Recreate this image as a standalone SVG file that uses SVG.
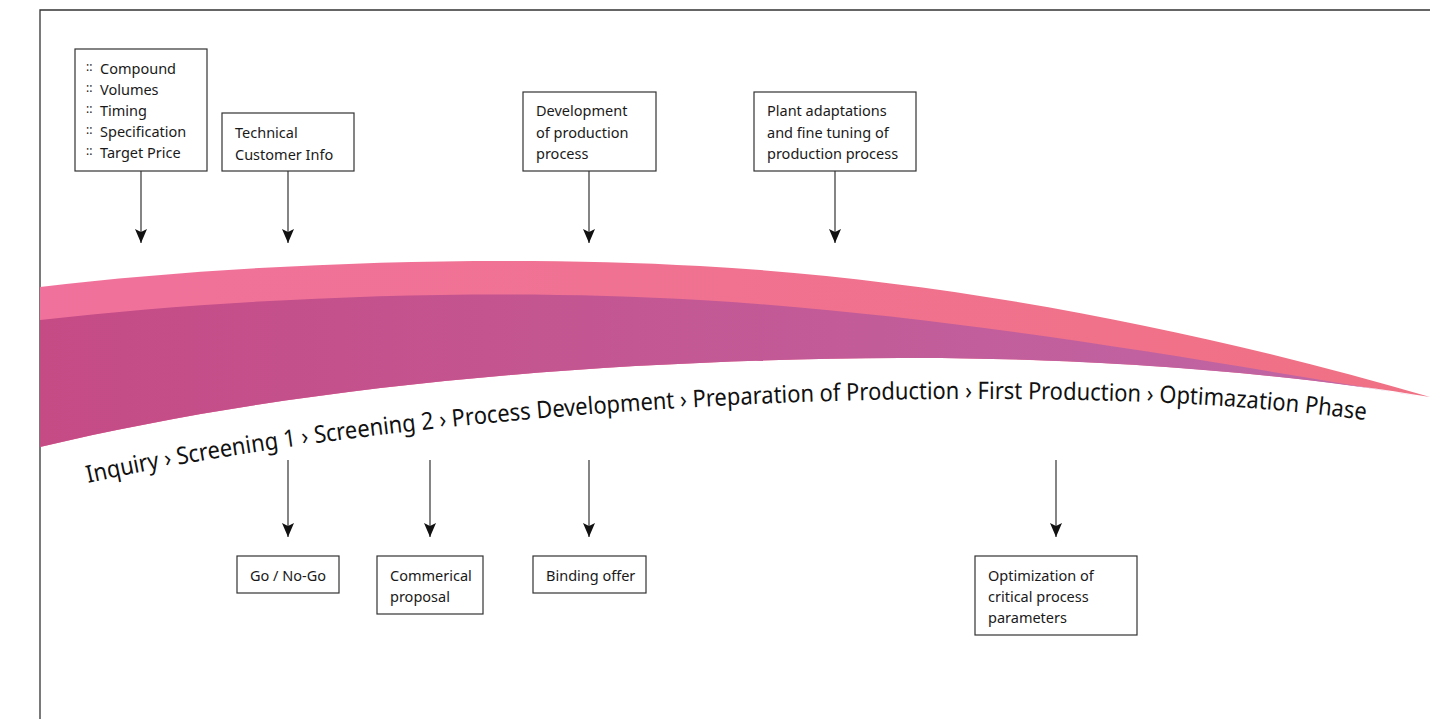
<svg xmlns="http://www.w3.org/2000/svg" width="1430" height="719" viewBox="0 0 1430 719">
<defs>
<style>
.box{fill:#fff;stroke:#333;stroke-width:1.2}
.t{font-family:"Noto Sans","Liberation Sans",sans-serif;font-size:14.5px;fill:#1a1a1a}
.b{font-family:"Noto Sans","Liberation Sans",sans-serif;font-size:12px;fill:#1a1a1a}
.arr{stroke:#333;stroke-width:1.2;fill:none;marker-end:url(#ah)}
.flow{font-family:"Noto Sans","Liberation Sans",sans-serif;font-size:24px;fill:#111}
</style>
<marker id="ah" markerUnits="userSpaceOnUse" markerWidth="14" markerHeight="12" viewBox="0 0 14 12" refX="14" refY="6" orient="auto">
<path d="M0,0 L14,6 L0,12 L3,6 Z" fill="#111"/>
</marker>
<linearGradient id="gp" x1="40" y1="0" x2="1430" y2="0" gradientUnits="userSpaceOnUse">
<stop offset="0" stop-color="#f0729c"/>
<stop offset="1" stop-color="#f07184"/>
</linearGradient>
<linearGradient id="gv" x1="40" y1="0" x2="1430" y2="0" gradientUnits="userSpaceOnUse">
<stop offset="0" stop-color="#c54b85"/>
<stop offset="1" stop-color="#c067a6"/>
</linearGradient>
<path id="tp" d="M88,483 C300,435 650,400 950,399 C1150,398 1280,408 1372,421"/>
</defs>
<g id="frame" stroke="#333" stroke-width="1.3" fill="none">
<path d="M40,719 L40,10 L1430,10"/>
</g>
<g id="swoosh">
<path d="M40,287 C250,262 500,255 700,266 C950,280 1200,330 1430,397 C1300,375 1100,357 900,358 C600,360 300,385 40,447 Z" fill="url(#gp)"/>
<path d="M40,320 C250,296 500,288 700,300 C950,315 1200,360 1418,396 C1300,375 1100,357 900,358 C600,360 300,385 40,447 Z" fill="url(#gv)"/>
</g>
<g id="flow-label">
<text class="flow"><textPath href="#tp" textLength="1284" lengthAdjust="spacingAndGlyphs">Inquiry › Screening 1 › Screening 2 › Process Development › Preparation of Production › First Production › Optimazation Phase</textPath></text>
</g>
<g id="connectors">
<line class="arr" x1="141" y1="171" x2="141" y2="243"/>
<line class="arr" x1="288" y1="171" x2="288" y2="243"/>
<line class="arr" x1="589" y1="171" x2="589" y2="243"/>
<line class="arr" x1="835" y1="171" x2="835" y2="243"/>
<line class="arr" x1="288" y1="460" x2="288" y2="537"/>
<line class="arr" x1="430" y1="460" x2="430" y2="537"/>
<line class="arr" x1="589" y1="460" x2="589" y2="537"/>
<line class="arr" x1="1056" y1="460" x2="1056" y2="537"/>
</g>
<g id="inquiry-info">
<rect class="box" x="75" y="49" width="132" height="122"/>
<text class="b" x="86" y="71">::</text><text class="t" x="100" y="74">Compound</text>
<text class="b" x="86" y="92">::</text><text class="t" x="100" y="95">Volumes</text>
<text class="b" x="86" y="113">::</text><text class="t" x="100" y="116">Timing</text>
<text class="b" x="86" y="134">::</text><text class="t" x="100" y="137">Specification</text>
<text class="b" x="86" y="155">::</text><text class="t" x="100" y="158">Target Price</text>
</g>
<g id="technical-info">
<rect class="box" x="222" y="113" width="132" height="58"/>
<text class="t" x="235" y="138">Technical</text>
<text class="t" x="235" y="160">Customer Info</text>
</g>
<g id="dev-production">
<rect class="box" x="523" y="92" width="133" height="79"/>
<text class="t" x="536" y="116">Development</text>
<text class="t" x="536" y="138">of production</text>
<text class="t" x="536" y="159">process</text>
</g>
<g id="plant-adaptations">
<rect class="box" x="754" y="92" width="162" height="79"/>
<text class="t" x="767" y="116">Plant adaptations</text>
<text class="t" x="767" y="138">and fine tuning of</text>
<text class="t" x="767" y="159">production process</text>
</g>
<g id="go-nogo">
<rect class="box" x="237" y="556" width="102" height="37"/>
<text class="t" x="250" y="581">Go / No-Go</text>
</g>
<g id="commercial-proposal">
<rect class="box" x="377" y="556" width="106" height="58"/>
<text class="t" x="390" y="581">Commerical</text>
<text class="t" x="390" y="602">proposal</text>
</g>
<g id="binding-offer">
<rect class="box" x="533" y="556" width="113" height="37"/>
<text class="t" x="546" y="581">Binding offer</text>
</g>
<g id="optimization">
<rect class="box" x="975" y="556" width="162" height="79"/>
<text class="t" x="988" y="581">Optimization of</text>
<text class="t" x="988" y="602">critical process</text>
<text class="t" x="988" y="623">parameters</text>
</g>
</svg>
